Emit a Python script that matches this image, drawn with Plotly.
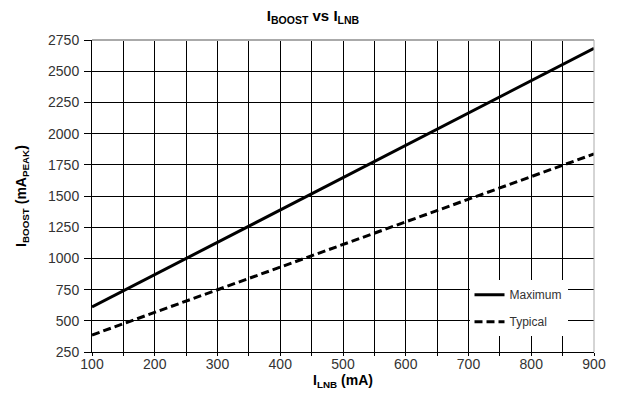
import plotly.graph_objects as go

x_lnb = [100, 900]
max_boost = [611, 2683]
typ_boost = [386, 1837]
x_ticks = [100, 200, 300, 400, 500, 600, 700, 800, 900]
y_ticks = [250, 500, 750, 1000, 1250, 1500, 1750, 2000, 2250, 2500, 2750]

FONT = "Liberation Sans, Arial, sans-serif"

fig = go.Figure()
fig.add_trace(go.Scatter(x=x_lnb, y=max_boost, mode="lines", name="Maximum",
                         line=dict(color="black", width=3), legendgroup="a"))
fig.add_trace(go.Scatter(x=x_lnb, y=typ_boost, mode="lines", name="Typical",
                         line=dict(color="black", width=3, dash="8px,4px"), legendgroup="b"))

fig.update_layout(
    width=610, height=408,
    margin=dict(l=84, r=21, t=32, b=64),
    paper_bgcolor="white", plot_bgcolor="white",
    font=dict(family=FONT, size=14, color="#333"),
    title=dict(text="<b>I<sub>BOOST</sub> vs I<sub>LNB</sub></b>", x=0.5, xanchor="center",
               y=0.995, yanchor="top", font=dict(size=15, color="black")),
    showlegend=True,
    legend=dict(x=0.752, y=0.23, xanchor="left", yanchor="top",
                bgcolor="white", borderwidth=0, font=dict(size=12, color="#333"),
                tracegroupgap=8, traceorder="grouped",
                itemwidth=30),
)
fig.update_xaxes(range=[100, 900], tickvals=x_ticks, showgrid=True, gridcolor="black", gridwidth=1,
                 minor=dict(dtick=50, tick0=100, showgrid=True, gridcolor="black", gridwidth=1,
                            ticks="outside", ticklen=3, tickcolor="black"),
                 showline=True, linecolor="black", linewidth=1,
                 ticks="outside", ticklen=3, tickcolor="black", zeroline=False,
                 ticklabelstandoff=-4,
                 title=dict(text="<b>I<sub>LNB</sub> (mA)</b>", font=dict(size=14, color="black"), standoff=0))
fig.update_yaxes(range=[250, 2750], tickvals=y_ticks, showgrid=True, gridcolor="black", gridwidth=1,
                 showline=True, linecolor="black", linewidth=1,
                 ticks="outside", ticklen=7, tickcolor="black", zeroline=False,
                 ticklabelstandoff=2,
                 title=dict(text="<b>I<sub>BOOST</sub> (mA<sub>PEAK</sub>)</b>", font=dict(size=14, color="black"), standoff=18))

fig.add_shape(type="line", xref="paper", yref="paper", x0=0, x1=1, y0=1, y1=1,
              line=dict(color="#aaa", width=2))
fig.add_shape(type="line", xref="paper", yref="paper", x0=1, x1=1, y0=0, y1=1,
              line=dict(color="#aaa", width=1))

fig.write_html("out.html")
